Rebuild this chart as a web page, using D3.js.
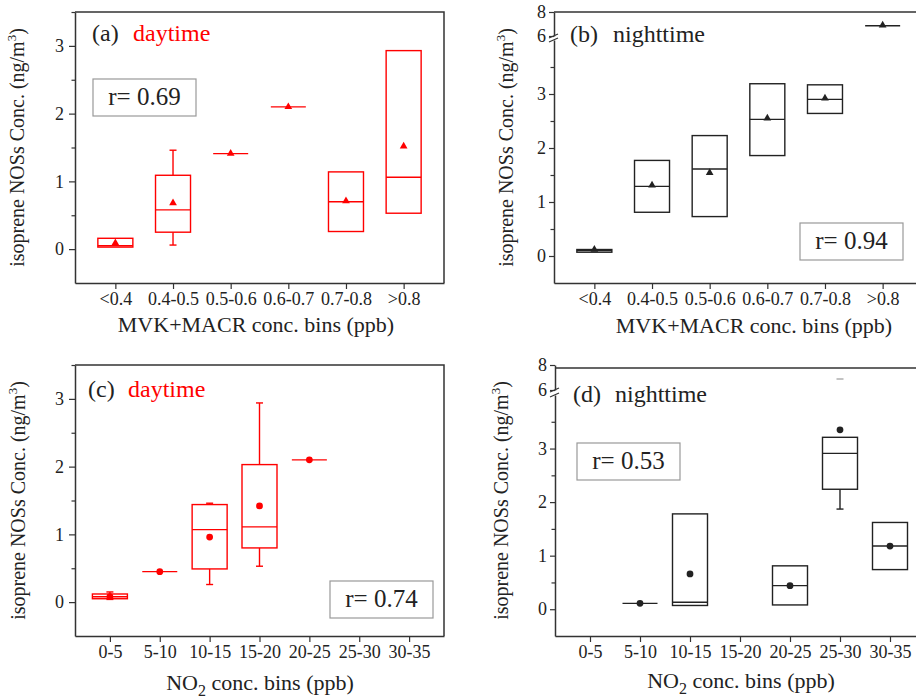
<!DOCTYPE html>
<html>
<head>
<meta charset="utf-8">
<script src="https://cdn.jsdelivr.net/npm/d3@7"></script>
<style>
  body { margin: 0; background: #fff; }
  svg, svg text { font-family: "Liberation Serif", "Times New Roman", Times, "DejaVu Serif", serif !important; }
  svg { display: block; }
</style>
</head>
<body>
<svg id="chart" width="916" height="698"></svg>
<script>
// bin labels
const binsMVK = ["<0.4", "0.4-0.5", "0.5-0.6", "0.6-0.7", "0.7-0.8", ">0.8"];
const binsNO2 = ["0-5", "5-10", "10-15", "15-20", "20-25", "25-30", "30-35"];

// (a) daytime vs MVK+MACR
const aLow = [0.03, 0.06, 1.41, 2.10, 0.26, 0.53];
const aQ1 = [0.03, 0.25, 1.41, 2.10, 0.26, 0.53];
const aMedian = [0.05, 0.58, 1.41, 2.10, 0.70, 1.06];
const aQ3 = [0.16, 1.09, 1.41, 2.10, 1.14, 2.93];
const aHigh = [0.16, 1.46, 1.41, 2.10, 1.14, 2.93];
const aMean = [0.09, 0.68, 1.41, 2.10, 0.71, 1.52];

// (b) nighttime vs MVK+MACR
const bLow = [0.07, 0.81, 0.73, 1.86, 2.64, 6.85];
const bQ1 = [0.07, 0.81, 0.73, 1.86, 2.64, 6.85];
const bMedian = [0.10, 1.29, 1.61, 2.53, 2.90, 6.85];
const bQ3 = [0.12, 1.77, 2.23, 3.19, 3.17, 6.85];
const bHigh = [0.12, 1.77, 2.23, 3.19, 3.17, 6.85];
const bMean = [0.12, 1.31, 1.54, 2.55, 2.92, 6.90];

// (c) daytime vs NO2
const cLow = [0.04, 0.45, 0.26, 0.53, 2.10, null, null];
const cQ1 = [0.05, 0.45, 0.49, 0.80, 2.10, null, null];
const cMedian = [0.08, 0.45, 1.07, 1.11, 2.10, null, null];
const cQ3 = [0.12, 0.45, 1.44, 2.03, 2.10, null, null];
const cHigh = [0.15, 0.45, 1.46, 2.94, 2.10, null, null];
const cMean = [0.08, 0.45, 0.96, 1.42, 2.10, null, null];

// (d) nighttime vs NO2
const dLow = [null, 0.11, 0.07, null, 0.08, 1.87, 0.74];
const dQ1 = [null, 0.11, 0.07, null, 0.08, 2.24, 0.74];
const dMedian = [null, 0.11, 0.13, null, 0.44, 2.91, 1.18];
const dQ3 = [null, 0.11, 1.78, null, 0.81, 3.21, 1.62];
const dHigh = [null, 0.11, 1.78, null, 0.81, 6.88, 1.62];
const dMean = [null, 0.11, 0.66, null, 0.44, 3.35, 1.18];

const red = "#ff0000";
const ink = "#222";

const panels = [
  {
    bins: binsMVK, low: aLow, q1: aQ1, med: aMedian, q3: aQ3, high: aHigh, mean: aMean,
    color: red, marker: "triangle", broken: false,
    left: 75, right: 444, top: 12, frameTop: 12, bottom: 283, tick: 6, pad: 5,
    tag: "(a)", label: "daytime", labelColor: red, tagX: 92, labelX: 133, titleY: 41,
    r: "r= 0.69", rX: 93, rY: 79,
    xTitle: "MVK+MACR", xTitleX: 256, xTitleY: 332, yTitleX: 24,
  },
  {
    bins: binsMVK, low: bLow, q1: bQ1, med: bMedian, q3: bQ3, high: bHigh, mean: bMean,
    color: ink, marker: "triangle", broken: true, breakLo: 40, breakHi: 36,
    left: 554, right: 923, top: 12, frameTop: 12, bottom: 283, tick: 5, pad: 3,
    tag: "(b)", label: "nighttime", labelColor: ink, tagX: 570, labelX: 613, titleY: 42,
    r: "r= 0.94", rX: 800, rY: 223,
    xTitle: "MVK+MACR", xTitleX: 754, xTitleY: 333, yTitleX: 513,
  },
  {
    bins: binsNO2, low: cLow, q1: cQ1, med: cMedian, q3: cQ3, high: cHigh, mean: cMean,
    color: red, marker: "circle", broken: false,
    left: 75, right: 444, top: 365, frameTop: 365, bottom: 636, tick: 6, pad: 5,
    tag: "(c)", label: "daytime", labelColor: red, tagX: 88, labelX: 128, titleY: 397,
    r: "r= 0.74", rX: 330, rY: 581,
    xTitle: "NO2", xTitleX: 260, xTitleY: 690, yTitleX: 25,
  },
  {
    bins: binsNO2, low: dLow, q1: dQ1, med: dMedian, q3: dQ3, high: dHigh, mean: dMean,
    color: ink, marker: "circle", broken: true, breakLo: 395, breakHi: 390,
    left: 555, right: 925, top: 365, frameTop: 368, bottom: 636, tick: 5, pad: 3,
    tag: "(d)", label: "nighttime", labelColor: ink, tagX: 573, labelX: 615, titleY: 402,
    r: "r= 0.53", rX: 577, rY: 443,
    xTitle: "NO2", xTitleX: 741, xTitleY: 688, yTitleX: 508,
  },
];

const svg = d3.select("#chart");
svg.append("rect").attr("width", 916).attr("height", 698).attr("fill", "#fff");

const boxWidth = 35;
const capWidth = 7;

function styleAxis(sel, size) {
  sel.attr("font-family", null);
  sel.select(".domain").attr("stroke", "#333").attr("stroke-width", 1.5);
  sel.selectAll(".tick line").attr("stroke", "#333").attr("stroke-width", 1.2);
  sel.selectAll(".tick text").attr("fill", ink).style("font-size", size + "px");
}

function drawPanel(p) {
  const g = svg.append("g");
  const n = p.bins.length;
  const x = d3.scaleLinear().domain([0.3, n + 0.7]).range([p.left, p.right]);

  let yLow, yUp, y;
  if (p.broken) {
    yLow = d3.scaleLinear().domain([-0.5, 4]).range([p.bottom, p.breakLo]);
    yUp = d3.scaleLinear().domain([6, 8]).range([p.breakHi, p.top]);
    y = v => (v >= 6 ? yUp(v) : yLow(v));
  } else {
    yLow = d3.scaleLinear().domain([-0.5, 3.5]).range([p.bottom, p.top]);
    y = yLow;
  }
  const segment = v => (p.broken && v >= 6 ? 1 : 0);

  // frame: top and right sides
  g.append("path")
    .attr("d", `M${p.left},${p.frameTop}H${p.right}V${p.bottom}`)
    .attr("fill", "none").attr("stroke", "#333").attr("stroke-width", 1.5);

  // bottom axis
  const xAxis = g.append("g")
    .attr("transform", `translate(0,${p.bottom})`)
    .call(d3.axisBottom(x)
      .tickValues(d3.range(1, n + 1))
      .tickFormat(i => p.bins[i - 1])
      .tickSize(6).tickSizeOuter(0).tickPadding(3));
  styleAxis(xAxis, 18);

  // left axis (lower part)
  const yAxis = g.append("g")
    .attr("transform", `translate(${p.left},0)`)
    .call(d3.axisLeft(yLow).tickValues([0, 1, 2, 3]).tickFormat(d3.format("d"))
      .tickSize(p.tick).tickSizeOuter(0).tickPadding(p.pad));
  styleAxis(yAxis, 18);

  const yMinor = g.append("g")
    .attr("transform", `translate(${p.left},0)`)
    .call(d3.axisLeft(yLow).tickValues([0.5, 1.5, 2.5, 3.5]).tickFormat("")
      .tickSize(3.5).tickSizeOuter(0));
  yMinor.select(".domain").remove();
  styleAxis(yMinor, 18);

  if (p.broken) {
    const yAxisUp = g.append("g")
      .attr("transform", `translate(${p.left},0)`)
      .call(d3.axisLeft(yUp).tickValues([6, 8]).tickFormat(d3.format("d"))
        .tickSize(p.tick).tickSizeOuter(0).tickPadding(p.pad));
    styleAxis(yAxisUp, 18);

    // break marks
    [p.breakHi, p.breakLo].forEach(yb => {
      g.append("line")
        .attr("x1", p.left - 5).attr("y1", yb + 2)
        .attr("x2", p.left + 4).attr("y2", yb - 2)
        .attr("stroke", "#333").attr("stroke-width", 1.3);
    });
  }

  // boxes
  const idx = d3.range(n).filter(i => p.q1[i] != null);
  idx.forEach(i => {
    const cx = x(i + 1);
    const x0 = cx - boxWidth / 2;
    const line = (x1, y1, x2, y2, color) => g.append("line")
      .attr("x1", x1).attr("y1", y1).attr("x2", x2).attr("y2", y2)
      .attr("stroke", color || p.color).attr("stroke-width", 1.4);

    // whiskers
    if (p.low[i] < p.q1[i]) {
      line(cx, y(p.q1[i]), cx, y(p.low[i]));
      line(cx - capWidth / 2, y(p.low[i]), cx + capWidth / 2, y(p.low[i]));
    }
    if (p.high[i] > p.q3[i]) {
      if (segment(p.high[i]) === segment(p.q3[i])) {
        line(cx, y(p.q3[i]), cx, y(p.high[i]));
        line(cx - capWidth / 2, y(p.high[i]), cx + capWidth / 2, y(p.high[i]));
      } else {
        line(cx - capWidth / 2, y(p.high[i]), cx + capWidth / 2, y(p.high[i]), "#aaa");
      }
    }

    if (p.q3[i] > p.q1[i]) {
      g.append("rect")
        .attr("x", x0).attr("y", y(p.q3[i]))
        .attr("width", boxWidth).attr("height", y(p.q1[i]) - y(p.q3[i]))
        .attr("fill", "none").attr("stroke", p.color).attr("stroke-width", 1.4);
    }
    line(x0, y(p.med[i]), x0 + boxWidth, y(p.med[i]));
  });

  // mean markers
  const symbol = d3.symbol()
    .type(p.marker === "triangle" ? d3.symbolTriangle : d3.symbolCircle)
    .size(p.marker === "triangle" ? 26 : 36);
  g.selectAll(".mean")
    .data(idx)
    .join("path")
    .attr("class", "mean")
    .attr("d", symbol)
    .attr("transform", i => `translate(${x(i + 1)},${y(p.mean[i])})`)
    .attr("fill", p.color);

  // panel title
  g.append("text").attr("x", p.tagX).attr("y", p.titleY)
    .style("font-size", "24px").attr("fill", ink).text(p.tag);
  g.append("text").attr("x", p.labelX).attr("y", p.titleY)
    .style("font-size", "24px").attr("fill", p.labelColor).text(p.label);

  // correlation box
  g.append("rect")
    .attr("x", p.rX).attr("y", p.rY).attr("width", 103).attr("height", 37)
    .attr("fill", "#fff").attr("stroke", "#999").attr("stroke-width", 1.2);
  g.append("text")
    .attr("x", p.rX + 51.5).attr("y", p.rY + 26)
    .attr("text-anchor", "middle").style("font-size", "25px").attr("fill", ink)
    .text(p.r);

  // x title
  const xt = g.append("text")
    .attr("x", p.xTitleX).attr("y", p.xTitleY)
    .attr("text-anchor", "middle").style("font-size", "22px").attr("fill", ink);
  if (p.xTitle === "NO2") {
    xt.append("tspan").text("NO");
    xt.append("tspan").style("font-size", "16px").attr("dy", 6).text("2");
    xt.append("tspan").attr("dy", -6).text(" conc. bins (ppb)");
  } else {
    xt.text("MVK+MACR conc. bins (ppb)");
  }

  // y title
  const yt = g.append("text")
    .attr("transform", `translate(${p.yTitleX},${(p.top + p.bottom) / 2}) rotate(-90)`)
    .attr("text-anchor", "middle").style("font-size", "20px").attr("fill", ink);
  yt.append("tspan").text("isoprene NOSs Conc. (ng/m");
  yt.append("tspan").style("font-size", "13px").attr("dy", -8).text("3");
  yt.append("tspan").attr("dy", 8).text(")");
}

panels.forEach(drawPanel);
</script>
</body>
</html>
